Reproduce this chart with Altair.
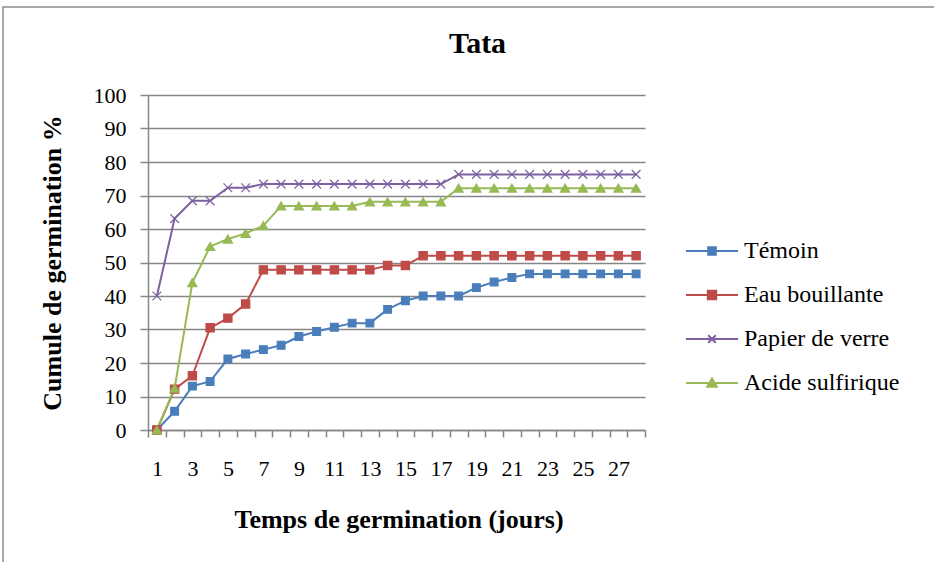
import altair as alt
import pandas as pd

# Germination cumulée (%) par jour, pour chaque traitement
days = list(range(1, 29))
temoin = [0, 5.6, 13.1, 14.5, 21.2, 22.7, 24.0, 25.3, 27.9, 29.4, 30.7, 31.9, 31.9,
          36.0, 38.6, 40.0, 40.0, 40.0, 42.5, 44.2, 45.5,
          46.6, 46.6, 46.6, 46.6, 46.6, 46.6, 46.6]
eau_bouillante = [0, 12.2, 16.2, 30.5, 33.4, 37.6,
                  47.8, 47.8, 47.8, 47.8, 47.8, 47.8, 47.8,
                  49.1, 49.1,
                  52.0, 52.0, 52.0, 52.0, 52.0, 52.0, 52.0, 52.0, 52.0, 52.0, 52.0, 52.0, 52.0]
papier_verre = [40.0, 63.1, 68.4, 68.4, 72.3, 72.3,
                73.4, 73.4, 73.4, 73.4, 73.4, 73.4, 73.4, 73.4, 73.4, 73.4, 73.4,
                76.3, 76.3, 76.3, 76.3, 76.3, 76.3, 76.3, 76.3, 76.3, 76.3, 76.3]
acide_sulfurique = [0, 12.5, 44.0, 54.8, 57.0, 58.7, 61.0,
                    66.9, 66.9, 66.9, 66.9, 66.9,
                    68.1, 68.1, 68.1, 68.1, 68.1,
                    72.2, 72.2, 72.2, 72.2, 72.2, 72.2, 72.2, 72.2, 72.2, 72.2, 72.2]

series = ["Témoin", "Eau bouillante", "Papier de verre", "Acide sulfirique"]
values = [temoin, eau_bouillante, papier_verre, acide_sulfurique]
y_ticks = list(range(0, 101, 10))

palette = ["#4A7EBB", "#BE4B48", "#7D60A0", "#98B954"]
marker_shapes = ["square", "square", "M-1,-1L1,1M1,-1L-1,1", "triangle-up"]
marker_sizes = [60, 85, 70, 95]
# legend keys: a short line segment with the marker in the middle
legend_shapes = [
    "M-2.6,0H2.6M-0.38,-0.38H0.38V0.38H-0.38Z",
    "M-2.6,0H2.6M-0.42,-0.42H0.42V0.42H-0.42Z",
    "M-2.6,0H2.6M-0.38,-0.38L0.38,0.38M0.38,-0.38L-0.38,0.38",
    "M-2.6,0H2.6M0,-0.45L0.48,0.38H-0.48Z",
]

df = pd.DataFrame(
    [{"jour": d, "valeur": v, "serie": s}
     for s, vals in zip(series, values) for d, v in zip(days, vals)]
)

# category boundaries get a tick mark, odd days get a label
bounds = [d - 0.5 for d in days] + [days[-1] + 0.5]
odd_days = [d for d in days if d % 2 == 1]
x_values = sorted(bounds + odd_days)

W, H = 497, 335
GRAY = "#868686"
SERIF = "Liberation Serif"

x_enc = alt.X(
    "jour:Q",
    scale=alt.Scale(domain=[0.5, 28.5], nice=False, zero=False),
    axis=alt.Axis(
        values=x_values,
        labelExpr="datum.value % 1 === 0 ? format(datum.value, 'd') : ''",
        tickOpacity={"condition": {"test": "datum.value % 1 !== 0", "value": 1}, "value": 0},
        tickSize=7, tickColor=GRAY, tickWidth=1.5,
        domainColor=GRAY, domainWidth=1.5, grid=False,
        labelFont=SERIF, labelFontSize=22, labelColor="black", labelPadding=21,
        labelOverlap=False, labelFlush=False, labelBound=False,
        titleFont=SERIF, titleFontSize=26, titleFontWeight="bold", titleColor="black",
        titleX=W / 2 + 2, titleY=97, titleBaseline="alphabetic", titleAlign="center",
    ),
    title="Temps de germination (jours)",
)
y_enc = alt.Y(
    "valeur:Q",
    scale=alt.Scale(domain=[0, 100], nice=False),
    axis=alt.Axis(
        values=y_ticks,
        tickSize=8, tickColor=GRAY, tickWidth=1.5,
        domainColor=GRAY, domainWidth=1.5,
        grid=True, gridColor=GRAY, gridWidth=1.5,
        labelFont=SERIF, labelFontSize=22, labelColor="black", labelPadding=14,
        titleFont=SERIF, titleFontSize=26, titleFontWeight="bold", titleColor="black",
        titleX=-96, titleY=H / 2, titleAngle=-90, titleBaseline="middle", titleAlign="center",
    ),
    title="Cumule de germination %",
)

base = alt.Chart(df)

lines = base.mark_line(strokeWidth=2).encode(
    x=x_enc, y=y_enc,
    color=alt.Color("serie:N", scale=alt.Scale(domain=series, range=palette), legend=None),
)

markers = base.mark_point(filled=True, opacity=1, strokeWidth=1.2).encode(
    x=x_enc, y=y_enc,
    fill=alt.Fill("serie:N", scale=alt.Scale(domain=series, range=palette), legend=None),
    stroke=alt.Stroke("serie:N", scale=alt.Scale(domain=series, range=palette), legend=None),
    shape=alt.Shape("serie:N", scale=alt.Scale(domain=series, range=marker_shapes), legend=None),
    size=alt.Size("serie:N", scale=alt.Scale(domain=series, range=marker_sizes), legend=None),
)

leg = alt.Legend(
    title=None, orient="none", legendX=552, legendY=144, padding=0,
    symbolSize=400, symbolStrokeWidth=2, symbolOpacity=1,
    labelFont=SERIF, labelFontSize=24, labelColor="black",
    labelOffset=20, rowPadding=20, labelLimit=400,
)
legend_layer = base.mark_point(filled=False, opacity=0, size=400, strokeWidth=2).encode(
    x=x_enc, y=y_enc,
    stroke=alt.Stroke("serie:N", scale=alt.Scale(domain=series, range=palette), legend=leg),
    fill=alt.Fill("serie:N", scale=alt.Scale(domain=series, range=palette), legend=leg),
    shape=alt.Shape("serie:N", scale=alt.Scale(domain=series, range=legend_shapes), legend=leg),
)

# thin outer frame of the chart area
frame = alt.Chart(pd.DataFrame({"k": [0]})).mark_rect(
    fillOpacity=0, stroke="#8C8C8C", strokeWidth=1.5
).encode(
    x=alt.value(-145), x2=alt.value(820), y=alt.value(-88), y2=alt.value(500)
)

chart = alt.layer(frame, lines, markers, legend_layer).resolve_scale(
    color="independent", fill="independent", stroke="independent",
    shape="independent", size="independent",
).resolve_legend(
    color="independent", fill="independent", stroke="independent",
    shape="independent", size="independent",
).properties(
    width=W, height=H,
    title=alt.TitleParams(
        "Tata", font=SERIF, fontSize=30, fontWeight="bold", color="black",
        anchor="middle", frame="group", baseline="alphabetic", offset=0, dx=81, dy=77,
    ),
    autosize=alt.AutoSizeParams(type="none"),
    padding={"left": 148, "top": 95, "right": 289, "bottom": 132},
    background="white",
).configure_view(stroke=None)

chart.save("out.html", embed_options={"renderer": "svg", "actions": False})
